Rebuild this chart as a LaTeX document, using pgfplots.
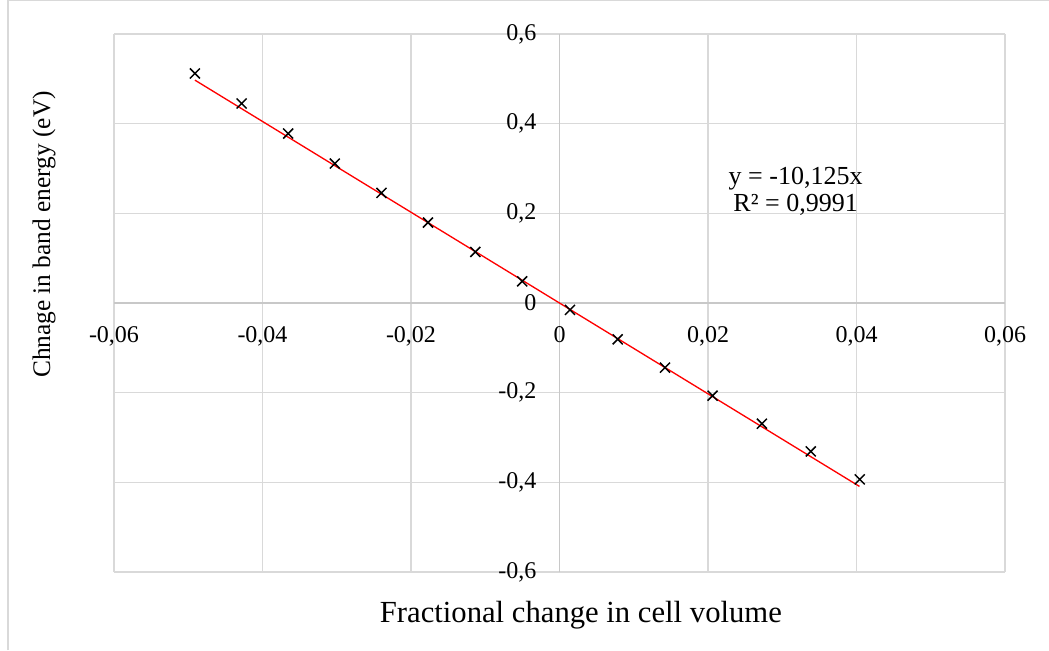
\documentclass[border=0pt]{standalone}
\usepackage{fontspec}
\setmainfont{Liberation Serif}
\usepackage{pgfplots}
\pgfplotsset{compat=1.18}
\definecolor{gridc}{HTML}{D9D9D9}
\definecolor{axc}{HTML}{C8C8C8}
\begin{document}
\begin{tikzpicture}
\useasboundingbox (0,0) rectangle (786.75pt,487.5pt);
\draw[gridc, line width=0.8pt] (6pt,0) -- (6pt,486.9pt) -- (786.75pt,486.9pt);
\begin{axis}[
  at={(85.5pt,58.5pt)}, anchor=south west,
  scale only axis, width=668.25pt, height=403.5pt,
  xmin=-0.06, xmax=0.06, ymin=-0.6, ymax=0.6,
  axis lines=middle,
  axis line style={-, draw=axc, line width=0.8pt},
  scaled x ticks=false, scaled y ticks=false,
  xtick={-0.06,-0.04,-0.02,0,0.02,0.04,0.06},
  xticklabels={{-0,06},{-0,04},{-0,02},0,{0,02},{0,04},{0,06}},
  ytick={-0.6,-0.4,-0.2,0,0.2,0.4,0.6},
  yticklabels={{-0,6},{-0,4},{-0,2},0,{0,2},{0,4},{0,6}},
  major tick length=0pt,
  tick style={draw=none},
  grid=major,
  major grid style={draw=gridc, line width=0.8pt},
  xticklabel style={font=\fontsize{18}{21}\selectfont, anchor=base, inner sep=0pt, yshift=-29.3pt},
  yticklabel style={font=\fontsize{18}{21}\selectfont, anchor=east, inner sep=0pt, xshift=-17.2pt},
  xlabel={Fractional change in cell volume},
  ylabel={Chnage in band energy (eV)},
  every axis x label/.style={at={(rel axis cs:0.524,-0.0942)}, anchor=base, font=\fontsize{23}{26}\selectfont},
  every axis y label/.style={at={(rel axis cs:-0.0718,0.6273)}, anchor=base, rotate=90, font=\fontsize{19}{22}\selectfont},
  clip=false,
]
\addplot[only marks, mark=x, mark size=5.3pt, mark options={black, line width=1.1pt}] coordinates {
(-0.04910,0.512)
(-0.04281,0.445)
(-0.03654,0.378)
(-0.03026,0.311)
(-0.02398,0.2455)
(-0.01771,0.1795)
(-0.01134,0.1138)
(-0.00502,0.0484)
(0.00141,-0.0154)
(0.00784,-0.0810)
(0.01421,-0.1442)
(0.02062,-0.2067)
(0.02726,-0.2692)
(0.03385,-0.3310)
(0.04044,-0.3935)
};
\addplot[red, line width=1pt] coordinates {(-0.0491,0.4971) (0.0404,-0.4091)};
\node[align=center, font=\fontsize{19.5}{20.25}\selectfont] at (axis cs:0.0318,0.249) {y = -10,125x\\R² = 0,9991};
\node[font=\fontsize{18}{21}\selectfont, anchor=base, inner sep=0pt, yshift=-29.3pt] at (axis cs:0,0) {0};
\node[font=\fontsize{18}{21}\selectfont, anchor=east, inner sep=0pt, xshift=-17.2pt] at (axis cs:0,0) {0};
\end{axis}
\end{tikzpicture}
\end{document}
